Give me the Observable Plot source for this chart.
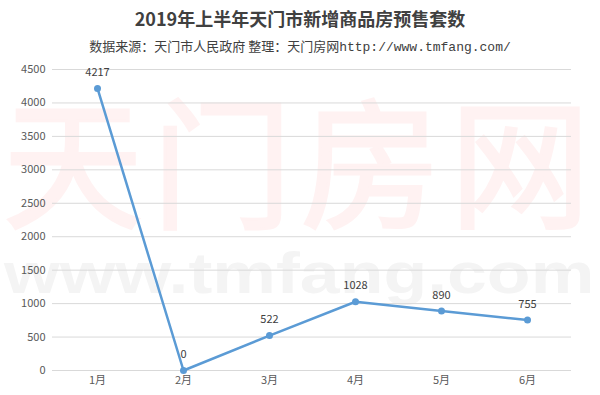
<!DOCTYPE html>
<html>
<head>
<meta charset="utf-8">
<script src="https://cdn.jsdelivr.net/npm/d3@7"></script>
<script src="https://cdn.jsdelivr.net/npm/@observablehq/plot@0.6"></script>
<style>
  html, body { margin: 0; padding: 0; background: #fff; }
  #wrap { position: relative; width: 600px; height: 395px; overflow: hidden; background: #fff; }
  .wm1 { position: absolute; left: 3px; top: 86px; font-family: "Noto Sans CJK SC", sans-serif; font-weight: normal; font-size: 140px; line-height: 140px; color: #fff2f2; -webkit-text-stroke: 3px #fff2f2; white-space: nowrap; z-index: 0; }
  .wm1 span { margin-right: 9px; }
  .wm1 span:last-child { margin-right: 0; }
  .wm2 { position: absolute; left: 4px; top: 244px; font-family: "Liberation Sans", Arial, sans-serif; font-weight: bold; font-size: 58px; line-height: 58px; color: #f4f4f4; white-space: nowrap; transform-origin: 0 0; transform: scaleX(1.235); z-index: 0; }
  .title { position: relative; z-index: 2; height: 34px; line-height: 36px; text-align: center; font-family: "Noto Sans CJK SC", sans-serif; font-weight: bold; font-size: 18px; color: #404040; }
  .sub { position: relative; z-index: 2; height: 24px; line-height: 24px; text-align: center; font-family: "Noto Sans CJK SC", sans-serif; font-size: 13px; color: #404040; }
  .sub .url { font-family: "Liberation Mono", "DejaVu Sans Mono", monospace; font-size: 13px; }
  #chart { position: relative; z-index: 1; }
</style>
</head>
<body>
<div id="wrap">
  <div class="wm1"><span>天</span><span>门</span><span>房</span><span>网</span></div>
  <div class="wm2">www.tmfang.com</div>
  <div class="title">2019年上半年天门市新增商品房预售套数</div>
  <div class="sub">数据来源：天门市人民政府 整理：天门房网<span class="url">http://www.tmfang.com/</span></div>
  <div id="chart"></div>
</div>
<script>
const months = ["1月", "2月", "3月", "4月", "5月", "6月"];
const values = [4217, 0, 522, 1028, 890, 755];
const yTicks = [0, 500, 1000, 1500, 2000, 2500, 3000, 3500, 4000, 4500];

const data = months.map((m, i) => ({month: m, value: values[i]}));

const chart = Plot.plot({
  width: 600,
  height: 337,
  marginTop: 11,
  marginBottom: 25,
  marginLeft: 52,
  marginRight: 29,
  style: {background: "transparent", fontFamily: "'Noto Sans CJK SC', sans-serif", fontSize: "11px", color: "#595959"},
  x: {type: "point", domain: months, padding: 0.5, label: null, tickSize: 0, tickPadding: 6},
  y: {domain: [0, 4500], ticks: yTicks, tickFormat: d => String(d), label: null, tickSize: 0, tickPadding: 7},
  marks: [
    Plot.gridY(yTicks, {stroke: "#d9d9d9", strokeOpacity: 1, strokeWidth: 1}),
    Plot.line(data, {x: "month", y: "value", stroke: "#5b9bd5", strokeWidth: 2.5}),
    Plot.dot(data, {x: "month", y: "value", fill: "#5b9bd5", r: 3.5}),
    Plot.text(data, {x: "month", y: "value", text: d => String(d.value), dy: -16, fill: "#404040", fontSize: 11})
  ]
});
document.getElementById("chart").appendChild(chart);
</script>
</body>
</html>
